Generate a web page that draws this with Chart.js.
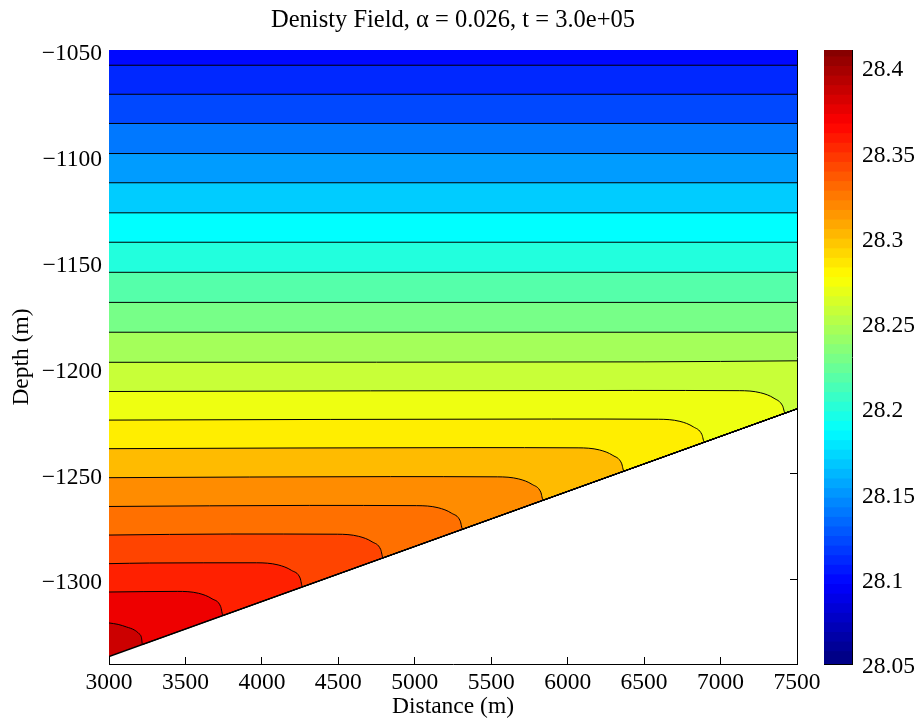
<!DOCTYPE html>
<html>
<head>
<meta charset="utf-8">
<title>Density field</title>
<script src="https://cdn.jsdelivr.net/npm/chart.js@4.4.1/dist/chart.umd.min.js"></script>
<style>
  html, body { margin: 0; padding: 0; background: #fff; }
  #wrap { position: relative; width: 924px; height: 723px; }
  #field { position: absolute; left: 0; top: 0; }
  #cbar { position: absolute; left: 815px; top: 0; }
</style>
</head>
<body>
<div id="wrap">
  <canvas id="field" width="924" height="723"></canvas>
  <canvas id="cbar" width="109" height="723"></canvas>
</div>
<script>
// axes
const xTicks = [3000, 3500, 4000, 4500, 5000, 5500, 6000, 6500, 7000, 7500];
const depthTicks = [-1300, -1250, -1200, -1150, -1100, -1050];
const depthMin = -1340;
const depthMax = -1050;
const densityTicks = [28.05, 28.1, 28.15, 28.2, 28.25, 28.3, 28.35, 28.4];
const densityMin = 28.05;
const densityMax = 28.41;

// sloping bottom (distance, depth)
const bottomX = [3000, 7500];
const bottomZ = [-1336.5, -1219.5];

// contour levels that run straight across the domain
const flatLevels = [-1057.2, -1070.9, -1084.7, -1098.9, -1112.7, -1126.9, -1140.8, -1155.0, -1169.2, -1183.3];
const levelNearSlope = [[3000, -1197.5], [6500, -1197.3], [7500, -1196.8]];

// contours that turn down and meet the bottom
const bentLevels = [
  [[3000, -1211.3], [6422, -1210.8], [7122, -1210.9], [7262, -1211.9], [7350, -1214.5], [7406, -1218.1], [7422, -1221.5]],
  [[3000, -1224.8], [5894, -1224.3], [6594, -1224.4], [6734, -1225.4], [6822, -1228.0], [6878, -1231.6], [6894, -1235.3]],
  [[3000, -1238.3], [5368, -1237.8], [6068, -1237.9], [6208, -1238.9], [6296, -1241.5], [6352, -1245.1], [6368, -1248.9]],
  [[3000, -1252.0], [4840, -1251.5], [5540, -1251.6], [5680, -1252.6], [5768, -1255.2], [5824, -1258.8], [5840, -1262.7]],
  [[3000, -1265.6], [4313, -1265.1], [5013, -1265.2], [5153, -1266.2], [5241, -1268.8], [5297, -1272.4], [5313, -1276.4]],
  [[3000, -1279.1], [3793, -1278.6], [4493, -1278.7], [4633, -1279.7], [4721, -1282.3], [4777, -1285.9], [4793, -1289.9]],
  [[3000, -1292.6], [3266, -1292.3], [3966, -1292.2], [4106, -1293.2], [4194, -1295.8], [4250, -1299.4], [4266, -1303.6]],
  [[3000, -1306.0], [3446, -1305.7], [3586, -1306.6], [3674, -1309.2], [3730, -1312.8], [3746, -1317.1]],
  [[3000, -1320.6], [3060, -1321.3], [3114, -1322.5], [3165, -1323.9], [3195, -1325.6], [3212, -1327.5], [3219, -1330.8]]
];

// fill colour of each band, lightest density at the top
const bandColors = [
  '#0008ff', '#0028ff', '#0048ff', '#0078ff', '#009cff', '#00ccff', '#00ffff',
  '#22ffdd', '#55ffaa', '#77ff88', '#a4ff5a', '#c8ff38', '#eeff11', '#ffee00',
  '#ffbb00', '#ff8c00', '#ff7000', '#ff4400', '#ff2000', '#ee0000', '#cc0000'
];

const serif = '"Liberation Serif", "Times New Roman", serif';
const labelFont = { family: serif, size: 23.5 };

function bottomAt(x) {
  const t = (x - bottomX[0]) / (bottomX[1] - bottomX[0]);
  return bottomZ[0] + t * (bottomZ[1] - bottomZ[0]);
}

// a contour that stops on the bottom carries on along the slope so its fill closes;
// two short steps keep the monotone spline straight along the slope
function closeOnBottom(pts) {
  const last = pts[pts.length - 1][0];
  const out = pts.slice();
  if (last < bottomX[1]) {
    out.push([last + 1, bottomAt(last + 1)]);
    out.push([last + 2, bottomAt(last + 2)]);
    out.push([bottomX[1], bottomZ[1]]);
  }
  return out;
}

const contourLines = [
  ...flatLevels.map(z => [[xTicks[0], z], [xTicks[xTicks.length - 1], z]]),
  levelNearSlope,
  ...bentLevels
];

const fieldDatasets = contourLines.map((pts, i) => ({
  data: closeOnBottom(pts).map(([x, y]) => ({ x, y })),
  borderColor: '#000',
  borderWidth: 1,
  backgroundColor: bandColors[i],
  fill: 'end',
  pointRadius: 0,
  cubicInterpolationMode: 'monotone'
}));

fieldDatasets.push({
  data: bottomX.map((x, i) => ({ x, y: bottomZ[i] })),
  borderColor: '#000',
  borderWidth: 1.4,
  backgroundColor: bandColors[bandColors.length - 1],
  fill: 'end',
  pointRadius: 0
});

function inwardTicks(len) {
  return { drawOnChartArea: false, drawTicks: true, tickLength: -len, color: '#000', lineWidth: 1 };
}
const blackBorder = { display: true, color: '#000', width: 1 };
const setTicks = list => scale => { scale.ticks = list.map(v => ({ value: v })); };

new Chart(document.getElementById('field'), {
  type: 'line',
  data: { datasets: fieldDatasets },
  options: {
    responsive: false,
    animation: false,
    events: [],
    layout: { padding: 0 },
    plugins: {
      legend: { display: false },
      tooltip: { enabled: false },
      filler: { drawTime: 'beforeDatasetsDraw' }
    },
    scales: {
      x: {
        type: 'linear', position: 'bottom', min: xTicks[0], max: xTicks[xTicks.length - 1],
        afterBuildTicks: setTicks(xTicks),
        afterFit: s => { s.height = 59; },
        grid: inwardTicks(7), border: blackBorder,
        ticks: { font: labelFont, color: '#000', padding: 12, maxRotation: 0, autoSkip: false, callback: v => String(v) },
        title: { display: true, text: 'Distance (m)', color: '#000', font: { family: serif, size: 23.5, lineHeight: 1 }, padding: { top: 0, bottom: 4 } }
      },
      xTop: {
        type: 'linear', position: 'top', min: xTicks[0], max: xTicks[xTicks.length - 1],
        afterBuildTicks: setTicks(xTicks),
        afterFit: s => { s.height = 50; },
        grid: inwardTicks(7), border: blackBorder,
        ticks: { display: false },
        title: { display: true, text: 'Denisty Field, \u03b1 = 0.026, t = 3.0e+05', color: '#000', font: { family: serif, size: 24.5, lineHeight: 1 }, padding: { top: 8, bottom: 0 } }
      },
      y: {
        type: 'linear', position: 'left', min: depthMin, max: depthMax,
        afterBuildTicks: setTicks(depthTicks),
        afterFit: s => { s.width = 109; },
        grid: inwardTicks(7), border: blackBorder,
        ticks: { font: labelFont, color: '#000', padding: 14, labelOffset: 4, callback: v => '\u2212' + Math.abs(v) },
        title: { display: true, text: 'Depth (m)', color: '#000', font: { family: serif, size: 23.5, lineHeight: 1 }, padding: { top: 10, bottom: 0 } }
      },
      yRight: {
        type: 'linear', position: 'right', min: depthMin, max: depthMax,
        afterBuildTicks: setTicks(depthTicks),
        afterFit: s => { s.width = 127; },
        grid: inwardTicks(7), border: blackBorder,
        ticks: { display: false }
      }
    }
  }
});

// colour bar: 64 jet steps stacked as floating bars
function jet(t) {
  const c = v => Math.round(255 * Math.min(1, Math.max(0, v)));
  return 'rgb(' + c(1.5 - Math.abs(4 * t - 3)) + ',' + c(1.5 - Math.abs(4 * t - 2)) + ',' + c(1.5 - Math.abs(4 * t - 1)) + ')';
}
const cbSteps = 64;
const cbDatasets = [];
for (let i = 0; i < cbSteps; i++) {
  const step = (densityMax - densityMin) / cbSteps;
  const lo = densityMin + i * step;
  const hi = i === cbSteps - 1 ? densityMax : lo + step * 1.3;
  cbDatasets.push({
    data: [[lo, hi]],
    backgroundColor: jet((i + 0.5) / cbSteps),
    borderWidth: 0,
    grouped: false,
    barPercentage: 1,
    categoryPercentage: 1
  });
}

new Chart(document.getElementById('cbar'), {
  type: 'bar',
  data: { labels: [''], datasets: cbDatasets },
  options: {
    responsive: false,
    animation: false,
    events: [],
    layout: { padding: 0 },
    plugins: { legend: { display: false }, tooltip: { enabled: false } },
    scales: {
      x: {
        type: 'category', position: 'bottom', display: true,
        afterFit: s => { s.height = 59; },
        grid: { display: false }, border: blackBorder, ticks: { display: false }
      },
      xTop: {
        type: 'category', position: 'top', display: true,
        afterFit: s => { s.height = 50; },
        grid: { display: false }, border: blackBorder, ticks: { display: false }
      },
      y: {
        type: 'linear', position: 'right', min: densityMin, max: densityMax,
        afterBuildTicks: setTicks(densityTicks),
        afterFit: s => { s.width = 72; },
        grid: inwardTicks(5), border: blackBorder,
        ticks: { font: labelFont, color: '#000', padding: 15, labelOffset: 3, callback: v => String(v) }
      },
      yLeft: {
        type: 'linear', position: 'left', min: densityMin, max: densityMax,
        afterBuildTicks: setTicks(densityTicks),
        afterFit: s => { s.width = 9; },
        grid: inwardTicks(5), border: blackBorder,
        ticks: { display: false }
      }
    }
  }
});
</script>
</body>
</html>
